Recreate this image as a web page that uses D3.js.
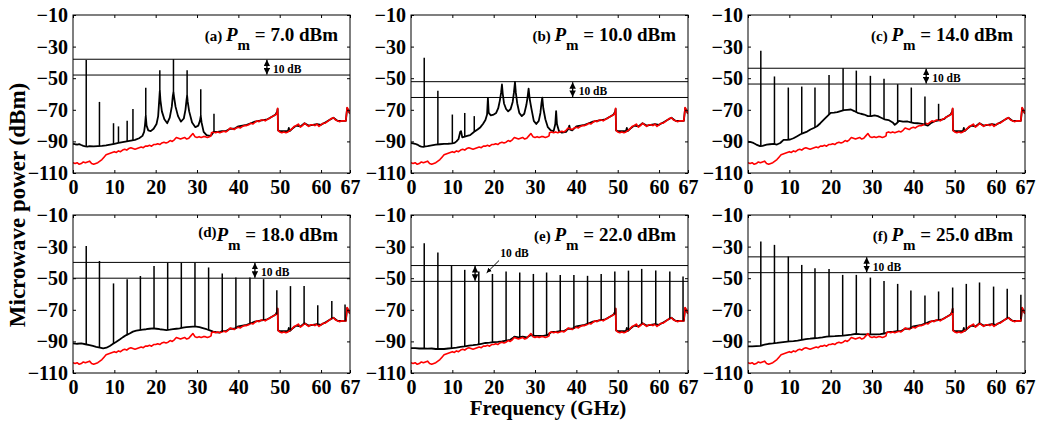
<!DOCTYPE html>
<html><head><meta charset="utf-8">
<script src="https://cdn.jsdelivr.net/npm/d3@7"></script>
<style>
body{margin:0;background:#fff}
svg text{font-family:"Liberation Serif","Times New Roman",serif;font-weight:bold;fill:#000}
</style></head>
<body><svg id="chart" width="1038" height="423"></svg>
<script>
// ---------- data ----------
const xTicks = [0, 10, 20, 30, 40, 50, 60, 67];
const yTicks = [-10, -30, -50, -70, -90, -110];
const panelIds = ["(a)", "(b)", "(c)", "(d)", "(e)", "(f)"];
const powers = ["7.0", "10.0", "14.0", "18.0", "22.0", "25.0"];

// red reference noise floor (same in every panel)
const redTrace = [[0,-103.5],[0.5,-104],[1,-103.5],[1.5,-104.5],[2,-104],[2.5,-103],[3,-103.5],[3.5,-103],[4,-102.5],[4.5,-104],[5,-104.5],[5.5,-104],[6,-103.5],[6.5,-102.5],[7,-101.5],[7.5,-100],[8,-98.5],[8.5,-98],[9,-97.5],[9.5,-97],[10,-96.5],[10.5,-97],[11,-96],[11.5,-96.5],[12,-95.5],[12.5,-95],[13,-95.5],[13.5,-94.5],[14,-94],[14.5,-94.5],[15,-95],[15.5,-94.5],[16,-94],[16.5,-93.5],[17,-94],[17.5,-93],[18,-93],[18.5,-92.5],[19,-93],[19.5,-92],[20,-92],[20.5,-91.5],[21,-92],[21.5,-91],[22,-90.5],[22.5,-91],[23,-90.5],[23.5,-89.5],[24,-90],[24.5,-89],[25,-87.5],[25.5,-88],[26,-88.5],[26.5,-88],[27,-87.5],[27.5,-88.5],[28,-88],[28.5,-86.5],[29,-85],[29.5,-87],[30,-87.5],[30.5,-87],[31,-87.5],[31.5,-87],[32,-87],[32.5,-87.5],[33,-87],[33.4,-86.5],[33.5,-84.5],[34,-84],[34.5,-84.5],[35,-84],[35.5,-84.5],[36,-84],[36.5,-83.5],[37,-84],[37.5,-83],[38,-81.5],[38.5,-82],[39,-82.5],[39.5,-81.5],[40,-81],[40.5,-81.5],[41,-80.5],[41.5,-80],[42,-80],[42.5,-79.5],[43,-78.5],[43.5,-79],[44,-78],[44.5,-77],[45,-77.5],[45.5,-76.5],[46,-76.5],[46.5,-77],[47,-76],[47.5,-75.5],[48,-74.5],[48.5,-74],[49,-73],[49.3,-72.5],[49.5,-69],[49.6,-83],[50,-84],[50.5,-84.5],[51,-84],[51.5,-84.5],[52,-84],[52.5,-83],[53,-82],[53.5,-80.5],[54,-80],[54.5,-79],[55,-81],[55.5,-80],[56,-78.5],[56.5,-79.5],[57,-80.5],[57.5,-79.5],[58,-79.5],[58.5,-80],[59,-79],[59.5,-80.5],[60,-79.5],[60.5,-78.5],[61,-78.5],[61.5,-77.5],[62,-76.5],[62.5,-75.5],[63,-75],[63.5,-76.5],[64,-77],[64.5,-77.5],[65,-77],[65.5,-77],[66,-77],[66.3,-68.5],[66.7,-70.5],[67,-72.5]];

// black trace above the point where it merges with the red floor (shared)
const blackHigh = [[25,-87],[26,-87.5],[27,-87],[28,-87.5],[29,-86],[30,-86.5],[31,-86.5],[32,-86.5],[33,-86],[34,-84],[35,-84],[36,-83.5],[37,-83.5],[38,-82],[39,-82],[40,-80.5],[41,-80],[42,-79.5],[43,-78.5],[44,-77.5],[45,-77],[46,-76.5],[47,-76],[48,-74.5],[49,-73],[49.4,-71],[49.5,-69.5],[49.6,-83],[50,-83.5],[51,-83.5],[52,-83.5],[52.2,-81.5],[52.4,-83.5],[53,-82],[54,-80],[55,-80.5],[56,-78.5],[57,-80],[58,-79.5],[59,-79],[60,-79.5],[61,-78],[62,-76.5],[63,-75],[64,-77],[65,-77],[66,-77],[66.3,-69],[66.7,-71],[67,-72.5]];

// black traces below the merge point, per panel
const blackA = [[0,-91.5],[0.5,-91.8],[1,-92],[1.5,-91.7],[2,-92.3],[2.5,-92.8],[3,-93.2],[3.5,-93.3],[4,-93],[5,-93.2],[6,-93],[7,-92.8],[8,-92.5],[9,-92],[10,-91.5],[11,-91],[12,-90.5],[13,-90],[14,-89.5],[15,-89],[16,-88],[16.8,-86.5],[17.2,-84],[17.4,-80],[17.6,-74],[17.8,-80],[18.2,-83],[18.8,-83.5],[19.5,-82],[20.2,-79],[20.6,-74],[20.85,-64],[21.0,-58],[21.15,-64],[21.5,-71],[22.1,-76],[22.8,-78.5],[23.4,-75],[23.9,-68],[24.15,-61],[24.3,-59],[24.45,-62],[24.8,-68],[25.4,-74],[26.1,-77.5],[26.8,-75.5],[27.2,-70],[27.45,-64],[27.6,-61],[27.75,-65],[28.1,-71],[28.8,-78],[29.6,-81],[30.3,-80],[30.7,-77],[30.9,-74],[31.1,-78],[31.6,-84],[32.3,-86],[33,-86.5],[33.5,-86]];
const blackB = [[0,-91],[0.5,-91.2],[1,-91.5],[1.5,-92],[2,-92.8],[2.5,-93.3],[3,-93.5],[3.5,-93.2],[4,-93],[5,-92.5],[6,-92],[7,-91.8],[8,-91.6],[9,-91.5],[10,-91.3],[10.5,-91],[11,-90],[11.5,-88.5],[11.9,-84],[12.1,-83.5],[12.4,-87.5],[13,-87],[13.6,-86.5],[14.3,-86],[15,-84.5],[15.5,-83.5],[16.1,-82.5],[16.8,-81],[17.4,-79],[18,-76.5],[18.4,-73],[18.6,-62.5],[18.8,-72],[19.3,-73.5],[20,-73],[20.6,-72],[21.1,-69],[21.5,-64],[21.8,-59],[22.0,-54],[22.2,-60],[22.5,-66],[23,-69.5],[23.5,-71],[24.1,-69.5],[24.6,-65],[24.9,-59],[25.15,-52.4],[25.35,-59],[25.7,-66],[26.2,-72],[26.8,-74],[27.4,-72.5],[27.9,-67],[28.2,-62],[28.45,-56.6],[28.7,-63],[29.1,-69],[29.7,-77],[30.3,-79],[30.9,-77],[31.3,-72],[31.55,-66],[31.75,-62.3],[32,-69],[32.5,-76],[33.1,-81],[33.8,-83],[34.5,-83.5],[34.9,-79],[35.1,-70.8],[35.3,-79],[35.8,-83.5],[36.5,-84.5],[37.5,-84],[38.1,-82],[38.3,-80],[38.5,-82.5],[39,-83]];
const blackC = [[0,-90.2],[0.7,-90.5],[1.3,-91],[2,-92],[2.9,-93],[3.5,-92.8],[4.5,-92],[5.3,-91.8],[6.2,-91.6],[7,-92],[7.8,-91],[8.6,-89],[9.4,-89],[10.2,-88.8],[11,-88],[11.9,-86.7],[12.7,-85.5],[13.5,-84.6],[14.3,-83.8],[15.1,-82.5],[15.9,-81.5],[16.7,-80.4],[17.5,-78.5],[18.4,-76.1],[19.2,-74],[20,-72],[20.8,-71.8],[21.6,-71.5],[22.4,-70.8],[23.2,-70.2],[24,-70],[24.9,-69.8],[25.7,-70.8],[26.5,-71.9],[27.3,-72.5],[28.1,-73],[29,-74],[29.8,-74],[30.6,-73.5],[31.4,-74],[32.2,-75],[33,-76],[34,-76.5],[35,-78],[35.5,-79.5],[36,-78.5],[36.5,-77],[37.5,-77.5],[38.6,-77.4],[39.4,-78],[40.2,-78.4],[41,-78.5],[41.8,-78.8],[42.6,-79.2],[43.5,-80],[44.2,-78.5],[45,-77.4],[45.8,-76.8],[46.7,-76.3],[47.5,-75.8]];
const blackD = [[0,-91.2],[1,-91.5],[2,-91.3],[3,-91.8],[4,-92.3],[4.8,-92.9],[5.6,-93.5],[6.5,-94],[7.3,-94.4],[8.1,-94],[8.9,-92.9],[9.7,-91.5],[10.5,-90.2],[11.3,-88.8],[12.1,-87.3],[12.9,-86],[13.7,-85],[14.5,-83.8],[15.3,-83.2],[16.1,-82.8],[16.9,-82.5],[17.7,-82.3],[18.5,-82],[19.4,-81.7],[20.2,-82],[21,-82.3],[21.8,-82.5],[22.6,-82.8],[23.4,-82.6],[24.2,-82.3],[25,-82],[25.8,-81.7],[26.6,-81.3],[27.4,-81],[28.2,-80.8],[29,-80.6],[29.8,-80.7],[30.6,-81],[31.4,-81.6],[32.3,-82.3],[33.1,-83],[33.9,-83.8],[34.7,-84.2],[35.5,-84.4]];
const blackE = [[0,-94.2],[1,-94.3],[2,-94.5],[3,-94.4],[4,-94.6],[5,-94.5],[6,-94.8],[7,-94.7],[8,-94.8],[9,-94.5],[10,-94.2],[11,-94],[12,-93.5],[13,-93.2],[14,-92.7],[15,-92.4],[16,-92],[17,-91.5],[18,-91],[19,-90.8],[20,-90.5],[21,-90.3],[22,-90],[23,-89.5],[24,-89],[24.8,-87.5]];
const blackF = [[0,-93.2],[1,-93.2],[2,-93],[3,-92.8],[4,-92],[5,-91.5],[6,-91.3],[7,-91],[8,-90.6],[9,-90.3],[10,-90],[11,-89.8],[12,-89.5],[13,-89],[14,-88.5],[15,-88.3],[16,-88],[17,-87.8],[18,-87.5],[19,-87],[20,-86.8],[21,-86.7],[22,-86.5],[23,-86.3],[24,-86],[25,-85.7],[26,-85.2],[27,-85.4],[28,-85.5],[29,-85.6],[30,-85.5],[31,-85.5],[32,-85.4],[33,-85]];

// comb lines: [frequency GHz, peak dBm, floor dBm]
const spikesA = [[3.2,-38.5,-93.2],[6.4,-65,-93],[9.8,-78.5,-91.6],[11.0,-80.5,-91],[13.1,-77,-90.2],[14.5,-69.5,-89.4],[17.6,-56,-74],[21.0,-45,-58],[24.3,-38,-59],[27.6,-45,-61],[30.9,-57,-74],[34.1,-72.5,-84]];
const spikesB = [[3.2,-37,-93.5],[6.5,-58,-92],[10.0,-73,-91.3],[13.0,-72,-87],[15.3,-74,-84]];
const spikesC = [[3.1,-32.7,-93],[6.4,-48.9,-91.7],[9.75,-55.9,-88.8],[13.0,-55.3,-85],[16.2,-55.9,-81],[19.6,-47.9,-73],[23.0,-43.7,-70.3],[26.2,-45.2,-71.5],[29.6,-48.5,-74],[32.9,-50.4,-76],[36.2,-53.8,-78],[39.5,-55.9,-78.1],[42.8,-61.6,-79.4],[46.1,-66.2,-76.6]];
const spikesD = [[3.2,-29.6,-91.7],[6.4,-39.1,-94],[9.8,-53.3,-91.6],[13.1,-50.7,-85.5],[16.3,-48.6,-82.7],[19.6,-42.3,-81.7],[22.9,-40.2,-82.7],[26.2,-40.2,-81.4],[29.5,-40.2,-80.6],[32.8,-43.2,-82.8],[36.1,-47,-84],[39.4,-49.5,-82],[42.8,-49.5,-78.8],[46.1,-50.6,-76.5],[49.3,-57.6,-73],[52.6,-55,-83],[55.9,-55,-78.8],[59.2,-67.1,-79.5],[62.6,-64.5,-75.5],[65.8,-66.7,-77]];
const spikesE = [[3.2,-27.9,-94.4],[6.5,-33.8,-94.8],[9.8,-42,-94.3],[13.0,-44.7,-93.2],[16.4,-45.8,-91.8],[19.7,-47.3,-90.6],[23.0,-45.8,-89.5],[26.3,-46.4,-87.3],[29.6,-47.3,-86.5],[32.8,-46.4,-86],[36.1,-47.9,-83.5],[39.4,-47.9,-82],[42.7,-48.5,-79],[46.0,-47.3,-76.5],[49.3,-45.8,-73],[52.6,-45.2,-83],[55.8,-44.1,-78.8],[59.2,-45.2,-79.3],[62.6,-45.8,-75.5],[65.8,-48.9,-77]];
const spikesF = [[3.1,-26.8,-92.9],[6.4,-28.9,-91.2],[9.75,-36.3,-90],[13.0,-41.6,-89],[16.2,-43.7,-88],[19.6,-44.1,-87],[22.9,-47.9,-86.3],[26.2,-47.9,-85.2],[29.6,-49.6,-85.5],[32.9,-51.7,-85],[36.2,-53.6,-83.5],[39.4,-57.8,-82],[42.8,-61,-78.8],[46.1,-58.4,-76.5],[49.5,-55.9,-72],[52.8,-53.6,-82.5],[56.0,-52.7,-78.5],[59.4,-55.3,-79.3],[62.7,-56.7,-75.3],[66.0,-60.5,-76]];

// 10 dB reference levels [upper, lower] and marker frequency
const refLevels = [[-38,-48],[-52.2,-62.2],[-43.7,-53.7],[-40,-50],[-42,-52],[-36.5,-46.5]];
const refMarkFreq = [46.9, 39.1, 43.1, 44.0, 15.5, 28.7];
const refLabel = "10 dB";

// ---------- drawing ----------
const blacks = [blackA, blackB, blackC, blackD, blackE, blackF];
const spikes = [spikesA, spikesB, spikesC, spikesD, spikesE, spikesF];
const svg = d3.select("#chart");
const W = 277, H = 158;
const lefts = [73, 411, 748], tops = [15, 215];

const defs = svg.append("defs");
defs.append("marker").attr("id","ah").attr("viewBox","0 0 10 10").attr("refX",10).attr("refY",5)
  .attr("markerWidth",5).attr("markerHeight",5).attr("orient","auto-start-reverse")
  .append("path").attr("d","M0,0L10,5L0,10Z").attr("fill","#000");
defs.append("clipPath").attr("id","clip").append("rect").attr("width",W).attr("height",H);

const x = d3.scaleLinear().domain([0, 67]).range([0, W]);
const y = d3.scaleLinear().domain([-110, -10]).range([H, 0]);
const line = d3.line().x(d => x(d[0])).y(d => y(d[1]));

panelIds.forEach((pid, i) => {
  const g = svg.append("g").attr("transform", `translate(${lefts[i % 3]},${tops[Math.floor(i / 3)]})`);
  const plot = g.append("g").attr("clip-path", "url(#clip)");

  // 10 dB reference lines
  refLevels[i].forEach(v => plot.append("line").attr("x1",0).attr("x2",W)
    .attr("y1",y(v)).attr("y2",y(v)).attr("stroke","#000").attr("stroke-width",1));

  const low = blacks[i];
  const lastF = low[low.length - 1][0];
  const black = low.concat(blackHigh.filter(d => d[0] > lastF));
  plot.append("path").datum(black).attr("d", line).attr("fill","none")
    .attr("stroke","#000").attr("stroke-width",1.8).attr("stroke-linejoin","round");
  plot.append("path").datum(redTrace).attr("d", line).attr("fill","none")
    .attr("stroke","#ff0000").attr("stroke-width",1.6).attr("stroke-linejoin","round");
  plot.selectAll("line.sp").data(spikes[i]).enter().append("line").attr("class","sp")
    .attr("x1",d => x(d[0])).attr("x2",d => x(d[0]))
    .attr("y1",d => y(d[2])).attr("y2",d => y(d[1]))
    .attr("stroke","#000").attr("stroke-width",1.5);

  // double arrow
  const fx = x(refMarkFreq[i]);
  g.append("line").attr("x1",fx).attr("x2",fx)
    .attr("y1",y(refLevels[i][0]) + 0.5).attr("y2",y(refLevels[i][1]) - 0.5)
    .attr("stroke","#000").attr("stroke-width",1.3)
    .attr("marker-start","url(#ah)").attr("marker-end","url(#ah)");
  if (i === 4) {
    g.append("text").attr("x", x(21.6)).attr("y", y(-36.5)).attr("font-size",11.5).text(refLabel);
    g.append("line").attr("x1", x(21.3)).attr("y1", y(-38.8)).attr("x2", x(18.3)).attr("y2", y(-46.6))
      .attr("stroke","#000").attr("stroke-width",1).attr("marker-end","url(#ah)");
  } else {
    g.append("text").attr("x", fx + 6).attr("y", y(refLevels[i][1]) - 2)
      .attr("font-size",11.5).text(refLabel);
  }

  // frame
  g.append("rect").attr("width",W).attr("height",H).attr("fill","none")
    .attr("stroke","#000").attr("stroke-width",1);

  // axes
  const ax = g.append("g").attr("transform",`translate(0,${H})`)
    .call(d3.axisBottom(x).tickValues(xTicks).tickSize(-3).tickPadding(6).tickFormat(d3.format("d")));
  const axT = g.append("g").call(d3.axisTop(x).tickValues(xTicks).tickSize(-3).tickFormat(""));
  const ay = g.append("g").call(d3.axisLeft(y).tickValues(yTicks).tickSize(-3).tickPadding(5).tickFormat(d3.format("d")));
  const ayR = g.append("g").attr("transform",`translate(${W},0)`)
    .call(d3.axisRight(y).tickValues(yTicks).tickSize(-3).tickFormat(""));
  [ax, axT, ay, ayR].forEach(a => { a.select(".domain").remove(); a.selectAll("line").attr("stroke","#000"); });
  ax.selectAll("text").attr("font-size",20).attr("font-family",null).attr("dy","0.75em");
  ay.selectAll("text").attr("font-size",20).attr("font-family",null);

  // title
  const t = g.append("text").attr("x", W - 12).attr("y", 26).attr("text-anchor","end");
  t.append("tspan").attr("font-size",15).attr("dy", i === 3 ? -4 : 0).text(pid + (i === 3 ? "" : " "));
  t.append("tspan").attr("font-size",19).attr("font-style","italic").attr("dy", i === 3 ? 4 : 0).text("P");
  t.append("tspan").attr("font-size",15).attr("dy",9).text("m");
  t.append("tspan").attr("font-size",19).attr("dy",-9).text(" = " + powers[i] + " dBm");
});

svg.append("text").attr("transform","translate(25,205) rotate(-90)").attr("text-anchor","middle")
  .attr("font-size",23).text("Microwave power (dBm)");
svg.append("text").attr("x",548).attr("y",415).attr("text-anchor","middle")
  .attr("font-size",21).text("Frequency (GHz)");
</script></body></html>
